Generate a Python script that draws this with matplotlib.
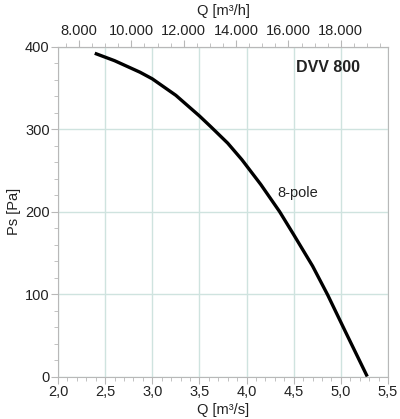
import matplotlib.pyplot as plt
from matplotlib.ticker import MultipleLocator, FuncFormatter

plt.rcParams['font.family'] = ['Liberation Sans', 'DejaVu Sans']

# curve
q_m3s = [2.39, 2.6, 2.87, 3.0, 3.25, 3.5, 3.62, 3.8, 3.95, 4.15, 4.35, 4.5, 4.7, 4.86, 5.05, 5.28]
ps_pa = [392, 383, 369, 361, 341, 316, 303, 283, 263, 233, 200, 172, 134, 99, 54, 0]

x_ticks = [2.0, 2.5, 3.0, 3.5, 4.0, 4.5, 5.0, 5.5]
y_ticks = [0, 100, 200, 300, 400]
top_ticks = [8000, 10000, 12000, 14000, 16000, 18000]

grid_col = '#cfe3df'
frame_col = '#b8b8b8'
text_col = '#222222'

fig = plt.figure(figsize=(4.0, 4.19), dpi=100)
ax = fig.add_axes([0.145, 0.1014, 0.825, 0.7872])

ax.plot(q_m3s, ps_pa, color='black', linewidth=2.4, solid_capstyle='butt')

ax.set_xlim(2.0, 5.5)
ax.set_ylim(0, 400)
ax.set_xticks(x_ticks)
ax.set_yticks(y_ticks)
ax.xaxis.set_minor_locator(MultipleLocator(0.1))
ax.yaxis.set_minor_locator(MultipleLocator(20))
ax.xaxis.set_major_formatter(FuncFormatter(lambda v, p: f'{v:.1f}'.replace('.', ',')))
ax.grid(True, which='major', color=grid_col, linewidth=1.0)

for s in ax.spines.values():
    s.set_color(frame_col)
    s.set_linewidth(0.8)

ax.tick_params(which='major', length=5, color=frame_col, labelsize=10.5, labelcolor=text_col, pad=1)
ax.tick_params(which='minor', length=3, color=frame_col)

# second x axis in m³/h on top
top = ax.secondary_xaxis('top', functions=(lambda x: x * 3600, lambda x: x / 3600))
top.set_xticks(top_ticks)
top.xaxis.set_minor_locator(MultipleLocator(500))
top.xaxis.set_major_formatter(FuncFormatter(lambda v, p: f'{int(v):,}'.replace(',', '.')))
top.tick_params(which='major', length=5, color=frame_col, labelsize=10.5, labelcolor=text_col, pad=1)
top.tick_params(which='minor', length=3, color=frame_col)
top.spines['top'].set_color(frame_col)
top.set_xlabel('Q [m³/h]', fontsize=10.5, color=text_col, labelpad=7)

ax.set_xlabel('Q [m³/s]', fontsize=10.5, color=text_col, labelpad=3)
ax.set_ylabel('Ps [Pa]', fontsize=10.5, color=text_col, labelpad=3)

ax.text(5.2, 375, 'DVV 800', fontsize=11.5, fontweight='bold', color=text_col, ha='right', va='center')
ax.text(4.33, 222, '8-pole', fontsize=10.5, color=text_col, ha='left', va='center')

plt.savefig('out.png', dpi=100)
